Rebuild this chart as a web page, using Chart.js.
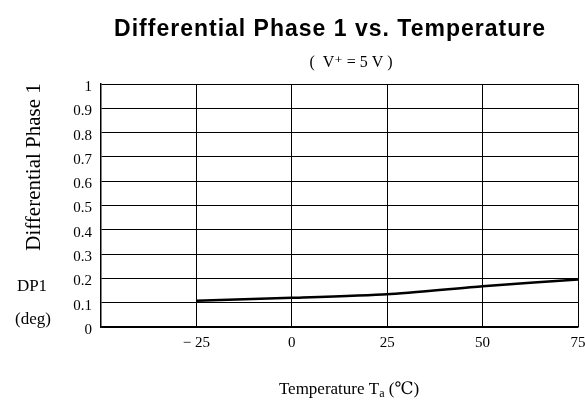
<!DOCTYPE html>
<html>
<head>
<meta charset="utf-8">
<script src="https://cdn.jsdelivr.net/npm/chart.js@4/dist/chart.umd.min.js"></script>
<style>
	html, body { margin: 0; padding: 0; background: #fff; }
	#wrap { width: 585px; height: 407px; }
</style>
</head>
<body>
<div id="wrap"><canvas id="dpChart"></canvas></div>
<script>
// Data
const temperatures = [-25, 0, 25, 50, 75];
const dp1 = [0.108, 0.12, 0.135, 0.168, 0.196];
const xTicks = [-25, 0, 25, 50, 75];

const serif = '"Liberation Serif", "DejaVu Serif", serif';

// Title, subtitle, axis titles and the horizontal y labels
const extraText = {
	id: 'extraText',
	afterDraw(chart) {
		const ctx = chart.ctx;
		ctx.save();
		ctx.fillStyle = '#000';
		ctx.textAlign = 'center';
		ctx.textBaseline = 'alphabetic';

		ctx.font = 'bold 23px "Liberation Sans", Arial, sans-serif';
		ctx.letterSpacing = '1px';
		ctx.fillText('Differential Phase 1 vs. Temperature', 330, 36);
		ctx.letterSpacing = '0px';

		ctx.font = '16px ' + serif;
		ctx.fillText('(  V\u207A = 5 V )', 351, 67);

		ctx.font = '17px ' + serif;
		ctx.fillText('DP1', 32, 291);
		ctx.fillText('(deg)', 33, 324);

		// rotated y title
		ctx.save();
		ctx.translate(40, 167);
		ctx.rotate(-Math.PI / 2);
		ctx.font = '21px ' + serif;
		ctx.fillText('Differential Phase 1', 0, 0);
		ctx.restore();

		// x title with subscript
		ctx.textAlign = 'left';
		const part1 = 'Temperature T';
		const part3 = ' (\u2103)';
		ctx.font = '17px ' + serif;
		const w1 = ctx.measureText(part1).width;
		ctx.font = '12px ' + serif;
		const w2 = ctx.measureText('a').width;
		ctx.font = '17px ' + serif;
		const w3 = ctx.measureText(part3).width;
		let x = 349 - (w1 + w2 + w3) / 2;
		ctx.fillText(part1, x, 394);
		x += w1;
		ctx.font = '12px ' + serif;
		ctx.fillText('a', x, 397);
		x += w2;
		ctx.font = '17px ' + serif;
		ctx.fillText(part3, x, 394);
		ctx.restore();
	},
};

const dpChart = new Chart(document.getElementById('dpChart'), {
	type: 'line',
	data: {
		datasets: [
			{
				data: temperatures.map((t, i) => ({ x: t, y: dp1[i] })),
				borderColor: '#000',
				borderWidth: 2.5,
				pointRadius: 0,
				tension: 0.2,
			},
		],
	},
	options: {
		responsive: true,
		maintainAspectRatio: false,
		animation: false,
		layout: { padding: { top: 84, right: 0, left: 0, bottom: 0 } },
		plugins: {
			legend: { display: false },
			tooltip: { enabled: false },
		},
		scales: {
			x: {
				type: 'linear',
				min: -50,
				max: 75,
				afterBuildTicks: (scale) => {
					scale.ticks = xTicks.map((v) => ({ value: v }));
				},
				afterFit: (scale) => {
					scale.height = 80;
					scale.paddingLeft = 0;
					scale.paddingRight = 7;
				},
				grid: { color: '#000', lineWidth: 1, drawTicks: false },
				border: { color: '#000', width: 1.5 },
				ticks: {
					color: '#000',
					padding: 7,
					font: { family: serif, size: 15 },
					callback: (v) => (v < 0 ? '\u2212 ' + Math.abs(v) : String(v)),
				},
			},
			y: {
				min: 0,
				max: 1,
				afterFit: (scale) => {
					scale.width = 101;
				},
				grid: { color: '#000', lineWidth: 1, drawTicks: false },
				border: { color: '#000', width: 1.5 },
				ticks: {
					stepSize: 0.1,
					color: '#000',
					padding: 9,
					labelOffset: 3,
					font: { family: serif, size: 15 },
					callback: (v) => String(Number(v.toFixed(1))),
				},
			},
		},
	},
	plugins: [extraText],
});
</script>
</body>
</html>
